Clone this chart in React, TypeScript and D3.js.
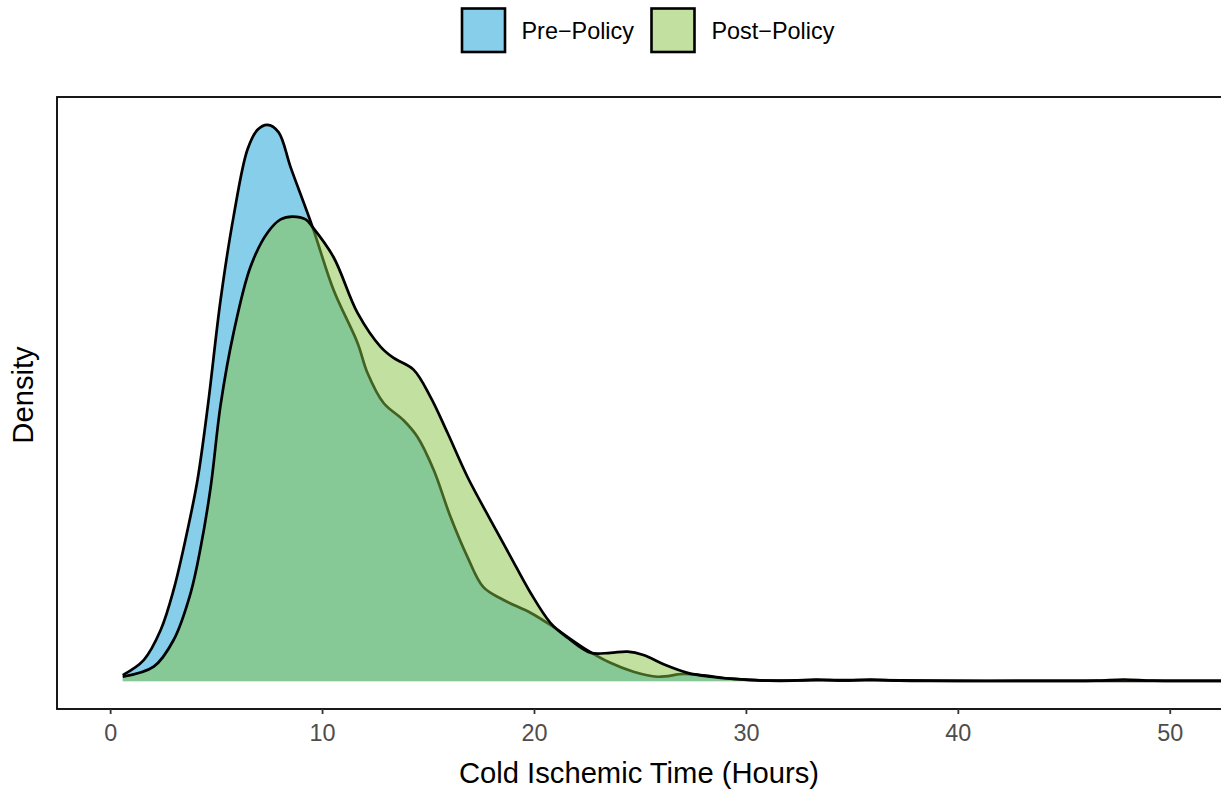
import React from "react";
import * as d3 from "d3";

const preHours = [0.57, 1.56, 2.36, 2.97, 3.63, 4.1, 4.58, 5.19, 5.8, 6.46, 6.93, 7.4, 7.92, 8.49, 9.53, 10.52, 11.65, 12.12, 12.88, 13.82, 14.48, 15.24, 16.04, 16.84, 17.59, 18.54, 19.81, 20.75, 22.31, 23.58, 24.67, 25.8, 27.03, 27.83, 29.39, 31.0, 32.2, 33.3, 34.6, 35.85, 37.2, 40, 45, 50, 55, 60, 62.6];
const preDensity = [0.0011, 0.0038, 0.0092, 0.0164, 0.0272, 0.0362, 0.0493, 0.0686, 0.0835, 0.0956, 0.0991, 0.1, 0.0987, 0.0924, 0.0816, 0.0703, 0.0608, 0.0554, 0.05, 0.0469, 0.0439, 0.038, 0.0295, 0.0223, 0.0169, 0.0146, 0.0123, 0.0101, 0.006, 0.0033, 0.0017, 0.0008, 0.0013, 0.0011, 0.0004, 0.0001, 0.0001, 0.0003, 0.0001, 0.0003, 0.0001, 0.00005, 0.00005, 0.00005, 0.00005, 0.00005, 0.00005];

const postHours = [0.57, 2.03, 2.97, 3.77, 4.25, 4.72, 5.19, 5.8, 6.6, 7.4, 8.02, 8.58, 9.2, 9.53, 10.52, 11.65, 12.74, 13.35, 14.29, 15.09, 15.9, 16.84, 17.92, 18.87, 19.81, 20.75, 21.56, 22.64, 23.58, 24.39, 25.14, 26.18, 27.22, 28.3, 29.39, 31.0, 33.3, 36.0, 40, 44, 46.5, 47.8, 49.2, 52, 56, 60, 62.6];
const postDensity = [0.0008, 0.0026, 0.0074, 0.0158, 0.0241, 0.0349, 0.0497, 0.0626, 0.0745, 0.0806, 0.083, 0.0835, 0.083, 0.0816, 0.0762, 0.0662, 0.0601, 0.0581, 0.056, 0.0511, 0.0446, 0.0367, 0.029, 0.0224, 0.0159, 0.0105, 0.0078, 0.0051, 0.0051, 0.0053, 0.0047, 0.0029, 0.0015, 0.0008, 0.0004, 0.0001, 0.0002, 0.0002, 0.00005, 0.00005, 0.0001, 0.0003, 0.0001, 0.00005, 0.00005, 0.00005, 0.00005];

const xTicks = [0, 10, 20, 30, 40, 50];
const legendLabels = ["Pre\u2212Policy", "Post\u2212Policy"];

const FONT = "'Liberation Sans', Arial, Helvetica, sans-serif";

export default function App() {
  const W = 1221;
  const H = 789;
  const panel = { left: 57, top: 97, bottom: 709 };
  const xMin = Math.min(d3.min(preHours)!, d3.min(postHours)!);
  const xMax = Math.max(d3.max(preHours)!, d3.max(postHours)!);
  const xr = xMax - xMin;
  const x = d3.scaleLinear().domain([xMin - 0.05 * xr, xMax + 0.05 * xr]).range([57, 1503]);
  const yMax = Math.max(d3.max(preDensity)!, d3.max(postDensity)!);
  const y = d3.scaleLinear().domain([-0.05 * yMax, 1.05 * yMax]).range([panel.bottom, panel.top]);

  const pre = preHours.map((h, i) => [h, preDensity[i]] as [number, number]);
  const post = postHours.map((h, i) => [h, postDensity[i]] as [number, number]);

  const curve = d3.curveCatmullRom.alpha(0.5);
  const area = d3.area<[number, number]>().x(d => x(d[0])).y0(y(0)).y1(d => y(d[1])).curve(curve);
  const line = d3.line<[number, number]>().x(d => x(d[0])).y(d => y(d[1])).curve(curve);

  const preFill = "#87CEEB";
  const postFill = "rgba(133,193,65,0.5)";
  const panelRight = 1503;

  return (
    <svg width={W} height={H} style={{ position: "absolute", left: 0, top: 0, background: "#fff" }}>
      <rect x={0} y={0} width={W} height={H} fill="#fff" />
      {/* legend */}
      <g fontFamily={FONT} fontSize={23.4}>
        <rect x={462} y={8.5} width={43} height={43.5} fill={preFill} stroke="#000" strokeWidth={2.6} />
        <text x={521.5} y={38.5} fill="#000">{legendLabels[0]}</text>
        <rect x={651.5} y={8.5} width={43} height={43.5} fill="#C2E0A0" stroke="#000" strokeWidth={2.6} />
        <text x={711.5} y={38.5} fill="#000">{legendLabels[1]}</text>
      </g>
      {/* densities */}
      <path d={area(pre) || ""} fill={preFill} />
      <path d={line(pre) || ""} fill="none" stroke="#000" strokeWidth={2.7} />
      <path d={area(post) || ""} fill={postFill} />
      <path d={line(post) || ""} fill="none" stroke="#000" strokeWidth={2.7} />
      {/* panel border */}
      <rect x={panel.left} y={panel.top} width={panelRight - panel.left} height={panel.bottom - panel.top} fill="none" stroke="#000" strokeWidth={1.8} />
      {/* x axis ticks */}
      <g fontFamily={FONT} fontSize={23.4} fill="#4D4D4D">
        {xTicks.map(t => (
          <g key={t}>
            <line x1={x(t)} x2={x(t)} y1={panel.bottom} y2={panel.bottom + 5} stroke="#333" strokeWidth={1.8} />
            <text x={x(t)} y={740.5} textAnchor="middle">{t}</text>
          </g>
        ))}
      </g>
      <text x={639} y={783} textAnchor="middle" fontFamily={FONT} fontSize={29.2} fill="#000">Cold Ischemic Time (Hours)</text>
      <text transform="translate(33,395) rotate(-90)" textAnchor="middle" fontFamily={FONT} fontSize={29.2} fill="#000">Density</text>
    </svg>
  );
}
